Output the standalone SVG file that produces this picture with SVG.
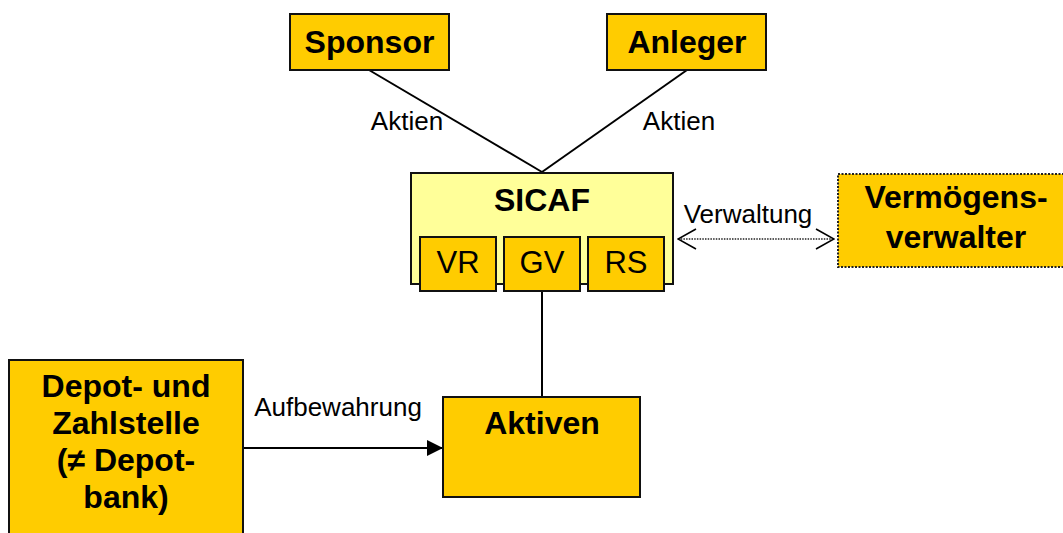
<svg xmlns="http://www.w3.org/2000/svg" width="1063" height="533" viewBox="0 0 1063 533">
<defs>
<style>
.box{fill:#FFCC00;stroke:#111;stroke-width:2}
.sicaf{fill:#FFFF99;stroke:#111;stroke-width:2}
.dotbox{fill:#FFCC00;stroke:#222;stroke-width:2;stroke-dasharray:2 1.5}
.b{font-family:"Liberation Sans",Arial,sans-serif;font-weight:bold;font-size:32px;fill:#000;text-anchor:middle}
.r{font-family:"Liberation Sans",Arial,sans-serif;font-size:31px;fill:#000;text-anchor:middle}
.lbl{font-family:"Liberation Sans",Arial,sans-serif;font-size:26px;fill:#000;text-anchor:middle}
.ln{stroke:#000;stroke-width:2;fill:none}
.dot{stroke:#222;stroke-width:1.6;stroke-dasharray:1.5 1.2;fill:none}
</style>
<marker id="tri" viewBox="0 0 16 16" refX="16" refY="8" markerWidth="16" markerHeight="16" markerUnits="userSpaceOnUse" orient="auto">
<path d="M0,0 L16,8 L0,16 Z" fill="#000"/>
</marker>
<marker id="vee" viewBox="0 0 20 22" refX="19" refY="11" markerWidth="20" markerHeight="22" markerUnits="userSpaceOnUse" orient="auto-start-reverse">
<path d="M1,1 L19,11 L1,21" fill="none" stroke="#000" stroke-width="1.6"/>
</marker>
</defs>
<g id="connectors">
<line class="ln" x1="369" y1="70" x2="542" y2="172"/>
<line class="ln" x1="687" y1="70" x2="542" y2="172"/>
<line class="ln" x1="542" y1="291" x2="542" y2="397"/>
<line class="ln" x1="243" y1="448" x2="443" y2="448" marker-end="url(#tri)"/>
<line class="dot" x1="678" y1="239" x2="834" y2="239" marker-start="url(#vee)" marker-end="url(#vee)"/>
<text class="lbl" x="407" y="130">Aktien</text>
<text class="lbl" x="679" y="130">Aktien</text>
<text class="lbl" x="748" y="223">Verwaltung</text>
<text class="lbl" x="338" y="416">Aufbewahrung</text>
</g>
<g id="sponsor">
<rect class="box" x="290" y="14" width="159" height="56"/>
<text class="b" x="369.5" y="53">Sponsor</text>
</g>
<g id="anleger">
<rect class="box" x="607" y="14" width="159" height="56"/>
<text class="b" x="687" y="53">Anleger</text>
</g>
<g id="sicaf">
<rect class="sicaf" x="411" y="173" width="262" height="111"/>
<text class="b" x="542" y="211">SICAF</text>
</g>
<g id="vr">
<rect class="box" x="420" y="237" width="76" height="54"/>
<text class="r" x="458" y="273">VR</text>
</g>
<g id="gv">
<rect class="box" x="504" y="237" width="76" height="54"/>
<text class="r" x="542" y="273">GV</text>
</g>
<g id="rs">
<rect class="box" x="588" y="237" width="76" height="54"/>
<text class="r" x="626" y="273">RS</text>
</g>
<g id="vermoegensverwalter">
<rect class="dotbox" x="838" y="174" width="236" height="93"/>
<text class="b" x="956" y="208">Vermögens-</text>
<text class="b" x="956" y="248">verwalter</text>
</g>
<g id="depot">
<rect class="box" x="9" y="360" width="234" height="190"/>
<text class="b" x="126" y="397">Depot- und</text>
<text class="b" x="126" y="434">Zahlstelle</text>
<text class="b" x="126" y="471">(≠ Depot-</text>
<text class="b" x="126" y="508">bank)</text>
</g>
<g id="aktiven">
<rect class="box" x="443" y="397" width="197" height="100"/>
<text class="b" x="542" y="434">Aktiven</text>
</g>
</svg>
